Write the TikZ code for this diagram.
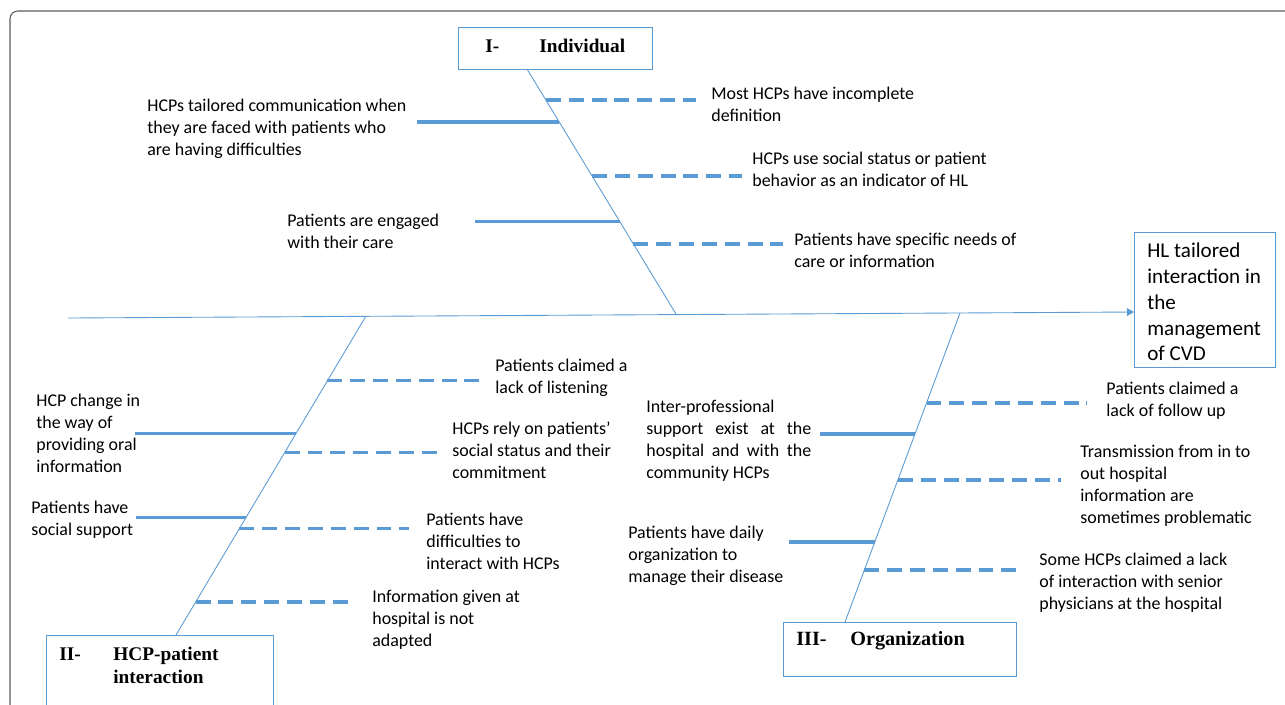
\documentclass[tikz,border=0pt]{standalone}
\usepackage{fontspec}
\setmainfont{Carlito}
\newfontfamily\headfont{Liberation Serif}
\usetikzlibrary{arrows.meta,calc}
\definecolor{bone}{RGB}{91,155,213}
\definecolor{framegray}{RGB}{90,90,90}
\newcommand\headtab[2]{\makebox[1.08cm][l]{#1}#2}
\tikzset{
	boneline/.style={draw=bone,line width=0.5pt},
	solidbar/.style={draw=bone,line width=1.9pt},
	dashbar/.style={draw=bone,line width=1.9pt,dash pattern=on 8.5pt off 4.5pt},
	catbox/.style={draw=bone,line width=0.8pt,anchor=north west,inner sep=0pt},
	cause/.style={anchor=west,inner sep=0pt,align=left,font=\fontsize{10.2}{12.5}\selectfont},
	catlabel/.style={anchor=west,inner sep=0pt,align=left,font=\headfont\bfseries\fontsize{11}{13}\selectfont},
}
\begin{document}
\begin{tikzpicture}[x=0.02cm,y=-0.02cm]
	\useasboundingbox (0,0) rectangle (1285,704);
	\draw[framegray,line width=0.6pt,rounded corners=4.5pt] (10,720)--(10,11)--(1300,11);
	% effect and spine
	\node[catbox,minimum width=2.82cm,minimum height=2.7cm] (effect) at (1134,232) {};
	\node[cause,font=\fontsize{12}{14.7}\selectfont] (effecttxt) at (1147,302) {HL tailored\\interaction in\\the\\management\\of CVD};
	\coordinate (tail) at (68,318);
	\coordinate (head) at (1134,312);
	\draw[boneline,-{Triangle[length=4pt,width=4.5pt]}] (tail)--(head);
	% I- Individual
	\node[catbox,minimum width=3.88cm,minimum height=0.84cm] (indiv) at (458,27) {};
	\node[catlabel] (indivtxt) at (485,46) {\headtab{I-}{Individual}};
	\coordinate (Ia) at (527,69);
	\coordinate (Ib) at (676,314);
	\draw[boneline] (Ia)--(Ib);
	\draw[dashbar] ($(Ia)!0.127!(Ib)$)--++(150,0);
	\draw[solidbar] ($(Ia)!0.216!(Ib)$)--++(-142,0);
	\draw[dashbar] ($(Ia)!0.437!(Ib)$)--++(150,0);
	\draw[solidbar] ($(Ia)!0.622!(Ib)$)--++(-145,0);
	\draw[dashbar] ($(Ia)!0.714!(Ib)$)--++(150,0);
	\node[cause] (c1) at (147,129) {HCPs tailored communication when\\they are faced with patients who\\are having difficulties};
	\node[cause] (c2) at (711,104) {Most HCPs have incomplete\\definition};
	\node[cause] (c3) at (752,169) {HCPs use social status or patient\\behavior as an indicator of HL};
	\node[cause] (c4) at (287,231) {Patients are engaged\\with their care};
	\node[cause] (c5) at (794,250) {Patients have specific needs of\\care or information};
	% II- HCP-patient interaction
	\node[catbox,minimum width=4.54cm,minimum height=1.7cm] (hcp) at (46,635) {};
	\node[catlabel] (hcptxt) at (59,665) {\headtab{II-}{HCP-patient}\\\hspace*{1.08cm}interaction};
	\coordinate (IIa) at (366,316);
	\coordinate (IIb) at (176,635);
	\draw[boneline] (IIa)--(IIb);
	\draw[dashbar] ($(IIa)!0.203!(IIb)$)--++(157,0);
	\draw[solidbar] ($(IIa)!0.369!(IIb)$)--++(-161,0);
	\draw[dashbar] ($(IIa)!0.428!(IIb)$)--++(157,0);
	\draw[solidbar] ($(IIa)!0.631!(IIb)$)--++(-110,0);
	\draw[dashbar] ($(IIa)!0.666!(IIb)$)--++(170,0);
	\draw[dashbar] ($(IIa)!0.897!(IIb)$)--++(157,0);
	\node[cause] (c6) at (495,378) {Patients claimed a\\lack of listening};
	\node[cause] (c7) at (36,433) {HCP change in\\the way of\\providing oral\\information};
	\node[cause] (c8) at (452,450) {HCPs rely on patients’\\social status and their\\commitment};
	\node[cause] (c9) at (31,520) {Patients have\\social support};
	\node[cause] (c10) at (426,541) {Patients have\\difficulties to\\interact with HCPs};
	\node[cause] (c11) at (372,620) {Information given at\\hospital is not\\adapted};
	% III- Organization
	\node[catbox,minimum width=4.66cm,minimum height=1.08cm] (org) at (783,622) {};
	\node[catlabel,font=\headfont\bfseries\fontsize{11.5}{13}\selectfont] (orgtxt) at (796,641) {\headtab{III-}{Organization}};
	\coordinate (IIIa) at (960,313);
	\coordinate (IIIb) at (845,622);
	\draw[boneline] (IIIa)--(IIIb);
	\draw[dashbar] ($(IIIa)!0.291!(IIIb)$)--++(160,0);
	\draw[solidbar] ($(IIIa)!0.392!(IIIb)$)--++(-95,0);
	\draw[dashbar] ($(IIIa)!0.540!(IIIb)$)--++(163,0);
	\draw[solidbar] ($(IIIa)!0.741!(IIIb)$)--++(-86,0);
	\draw[dashbar] ($(IIIa)!0.832!(IIIb)$)--++(158,0);
	\node[cause] (c12) at (1106,401) {Patients claimed a\\lack of follow up};
	\node[cause,text width=3.3cm,align=justify] (c13) at (646,441) {Inter-professional\\support exist at the\linebreak hospital and with the\linebreak community HCPs};
	\node[cause] (c14) at (1080,486) {Transmission from in to\\out hospital\\information are\\sometimes problematic};
	\node[cause] (c15) at (628,556) {Patients have daily\\organization to\\manage their disease};
	\node[cause] (c16) at (1039,583) {Some HCPs claimed a lack\\of interaction with senior\\physicians at the hospital};
\end{tikzpicture}
\end{document}
